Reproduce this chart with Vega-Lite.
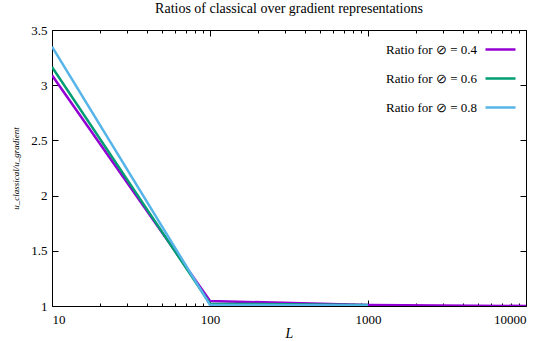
{
  "$schema": "https://vega.github.io/schema/vega-lite/v6.json",
  "width": 474,
  "height": 276,
  "autosize": {"type": "none"},
  "padding": {"left": 52, "top": 30, "right": 24, "bottom": 35},
  "title": {"text": "Ratios of classical over gradient representations", "font": "Liberation Serif", "fontSize": 14, "fontWeight": "normal", "offset": 8, "color": "black"},
  "config": {
    "view": {"stroke": "black", "strokeWidth": 1},
    "font": "Liberation Serif",
    "legend": {"labelFont": "Liberation Serif"},
    "axis": {"domain": false, "grid": false, "tickColor": "black", "tickWidth": 1, "labelColor": "black", "labelFont": "Liberation Serif", "labelFontSize": 13, "titleFont": "Liberation Serif", "titleColor": "black", "titleFontWeight": "normal"}
  },
  "datasets": {
    "main": [
      {"L": 10, "ratio": 3.09, "series": "Ratio for ⊘ = 0.4"},
      {"L": 100, "ratio": 1.045, "series": "Ratio for ⊘ = 0.4"},
      {"L": 1000, "ratio": 1.01, "series": "Ratio for ⊘ = 0.4"},
      {"L": 10000, "ratio": 1.0, "series": "Ratio for ⊘ = 0.4"},
      {"L": 10, "ratio": 3.165, "series": "Ratio for ⊘ = 0.6"},
      {"L": 100, "ratio": 1.02, "series": "Ratio for ⊘ = 0.6"},
      {"L": 1000, "ratio": 1.01, "series": "Ratio for ⊘ = 0.6"},
      {"L": 10, "ratio": 3.35, "series": "Ratio for ⊘ = 0.8"},
      {"L": 100, "ratio": 1.01, "series": "Ratio for ⊘ = 0.8"},
      {"L": 1000, "ratio": 1.005, "series": "Ratio for ⊘ = 0.8"}
    ]
  },
  "data": {"name": "main"},
  "resolve": {"axis": {"x": "independent", "y": "independent"}},
  "layer": [
    {
      "mark": {"type": "line", "strokeWidth": 2.5, "clip": true},
      "encoding": {
        "x": {"field": "L", "type": "quantitative", "scale": {"type": "log", "domain": [10, 10000]},
              "axis": {"orient": "bottom", "values": [10, 100, 1000, 10000], "format": "d", "tickSize": -6, "labelPadding": 13, "title": "L", "titleFontStyle": "italic", "titleFontSize": 14, "titlePadding": 0}},
        "y": {"field": "ratio", "type": "quantitative", "scale": {"domain": [1, 3.5], "nice": false, "zero": false},
              "axis": {"orient": "left", "values": [1, 1.5, 2, 2.5, 3, 3.5], "format": "~g", "tickSize": -6, "labelPadding": 11, "title": "u_classical/u_gradient", "titleFontStyle": "italic", "titleFontSize": 9, "titlePadding": 10}},
        "color": {"field": "series", "type": "nominal",
                  "scale": {"range": ["#9400d3", "#009e73", "#56b4e9"]},
                  "legend": {"title": null, "orient": "none", "legendX": 432, "legendY": 3, "symbolType": "stroke", "symbolSize": 900, "symbolStrokeWidth": 2.5, "labelFont": "Liberation Serif", "labelFontSize": 13, "labelColor": "black", "labelAlign": "right", "labelOffset": -40, "rowPadding": 5}}
      }
    },
    {
      "mark": {"type": "line", "opacity": 0},
      "encoding": {
        "x": {"field": "L", "type": "quantitative", "scale": {"type": "log", "domain": [10, 10000]},
              "axis": {"orient": "top", "values": [10, 100, 1000, 10000], "labels": false, "tickSize": -6, "title": null}},
        "y": {"field": "ratio", "type": "quantitative", "scale": {"domain": [1, 3.5], "nice": false, "zero": false},
              "axis": {"orient": "right", "values": [1, 1.5, 2, 2.5, 3, 3.5], "labels": false, "tickSize": -6, "title": null}},
        "detail": {"field": "series"}
      }
    },
    {
      "mark": {"type": "line", "opacity": 0},
      "encoding": {
        "x": {"field": "L", "type": "quantitative", "scale": {"type": "log", "domain": [10, 10000]},
              "axis": {"orient": "bottom", "values": [20, 30, 40, 50, 60, 70, 80, 90, 200, 300, 400, 500, 600, 700, 800, 900, 2000, 3000, 4000, 5000, 6000, 7000, 8000, 9000], "labels": false, "tickSize": -3, "title": null}},
        "y": {"field": "ratio", "type": "quantitative", "scale": {"domain": [1, 3.5], "nice": false, "zero": false}, "axis": null},
        "detail": {"field": "series"}
      }
    },
    {
      "mark": {"type": "line", "opacity": 0},
      "encoding": {
        "x": {"field": "L", "type": "quantitative", "scale": {"type": "log", "domain": [10, 10000]},
              "axis": {"orient": "top", "values": [20, 30, 40, 50, 60, 70, 80, 90, 200, 300, 400, 500, 600, 700, 800, 900, 2000, 3000, 4000, 5000, 6000, 7000, 8000, 9000], "labels": false, "tickSize": -3, "title": null}},
        "y": {"field": "ratio", "type": "quantitative", "scale": {"domain": [1, 3.5], "nice": false, "zero": false}, "axis": null},
        "detail": {"field": "series"}
      }
    }
  ]
}
